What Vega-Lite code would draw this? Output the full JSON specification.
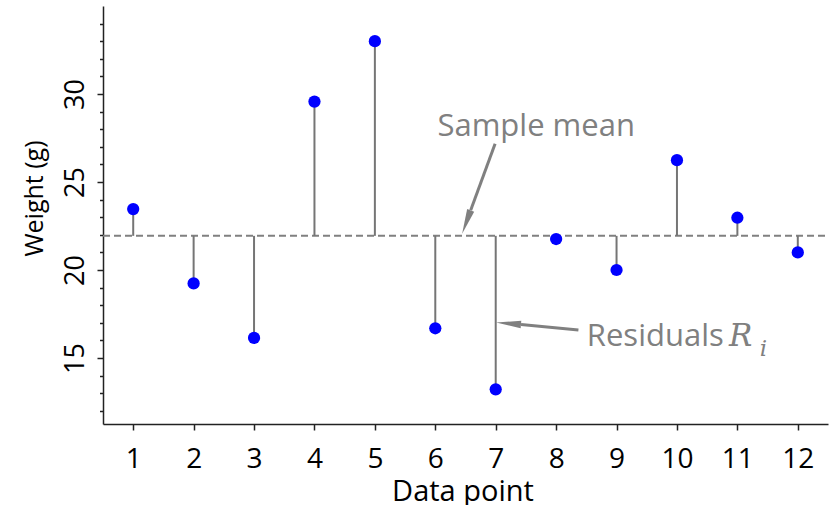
{
  "$schema": "https://vega.github.io/schema/vega-lite/v6.json",
  "width": 725,
  "height": 418,
  "autosize": {"type": "none"},
  "padding": {"left": 103, "top": 6, "right": 4, "bottom": 81},
  "config": {"view": {"stroke": null}, "font": "Open Sans"},
  "datasets": {
    "points": [
      {"x": 1, "y": 23.46}, {"x": 2, "y": 19.24}, {"x": 3, "y": 16.14},
      {"x": 4, "y": 29.57}, {"x": 5, "y": 33.0}, {"x": 6, "y": 16.69},
      {"x": 7, "y": 13.22}, {"x": 8, "y": 21.76}, {"x": 9, "y": 20.0},
      {"x": 10, "y": 26.24}, {"x": 11, "y": 22.97}, {"x": 12, "y": 21.0}
    ],
    "mean": [{"x": 0.5, "y": 21.94}, {"x": 12.5, "y": 21.94}],
    "arrows": [
      {"name": "mean", "x": 6.99, "y": 27.17, "x2": 6.586, "y2": 23.39, "hx": 6.515, "hy": 22.72},
      {"name": "resid", "x": 8.369, "y": 16.595, "x2": 7.419, "y2": 16.9, "hx": 7.212, "hy": 16.96}
    ],
    "labels": [
      {"text": "Sample mean", "x": 7.67, "y": 27.62},
      {"text": "Residuals", "x": 8.508, "y": 15.68}
    ],
    "math": [
      {"text": "R", "x": 10.86, "y": 15.68},
      {"text": "i", "x": 11.37, "y": 15.14}
    ]
  },
  "encoding": {
    "x": {"field": "x", "type": "quantitative", "scale": {"domain": [0.5, 12.5], "nice": false, "zero": false},
      "axis": {"values": [1,2,3,4,5,6,7,8,9,10,11,12], "grid": false, "tickSize": 6, "tickWidth": 1.5, "tickColor": "#222",
        "domainColor": "#222", "domainWidth": 1.5, "labelFontSize": 28, "labelColor": "#000", "labelPadding": 37,
        "labelBaseline": "alphabetic", "labelFlush": false, "labelOverlap": false, "format": "d",
        "title": "Data point", "titleFontSize": 29, "titleFontWeight": "normal", "titleColor": "#000",
        "titleX": 359.5, "titleY": 76, "titleBaseline": "alphabetic", "titleAlign": "center"}},
    "y": {"field": "y", "type": "quantitative", "scale": {"domain": [11.25, 35], "nice": false, "zero": false},
      "axis": {"values": [12,13,14,15,16,17,18,19,20,21,22,23,24,25,26,27,28,29,30,31,32,33,34],
        "labelExpr": "datum.value % 5 === 0 ? datum.label : ''",
        "tickSize": {"condition": {"test": "datum.value % 5 === 0", "value": 6}, "value": 3.5},
        "grid": false, "tickWidth": 1.5, "tickColor": "#222", "domainColor": "#222", "domainWidth": 1.5,
        "labelAngle": -90, "labelAlign": "center", "labelBaseline": "alphabetic", "labelPadding": 14,
        "labelFontSize": 27, "labelColor": "#000", "labelFlush": false, "labelOverlap": false,
        "title": "Weight (g)", "titleFontSize": 25, "titleFontWeight": "normal", "titleColor": "#000",
        "titleAngle": -90, "titleX": -61, "titleY": 192, "titleAlign": "center", "titleBaseline": "alphabetic"}}
  },
  "layer": [
    {
      "data": {"name": "mean"},
      "mark": {"type": "line", "color": "#808080", "strokeWidth": 2, "strokeDash": [7, 4]}
    },
    {
      "data": {"name": "points"},
      "mark": {"type": "rule", "color": "#757575", "strokeWidth": 2},
      "encoding": {
        "y2": {"datum": 21.94}
      }
    },
    {
      "data": {"name": "points"},
      "mark": {"type": "circle", "size": 150, "color": "#0000ff", "opacity": 1}
    },
    {
      "data": {"name": "arrows"},
      "mark": {"type": "rule", "color": "#808080", "strokeWidth": 3},
      "encoding": {
        "x2": {"field": "x2"},
        "y2": {"field": "y2"}
      }
    },
    {
      "data": {"name": "arrows"},
      "transform": [{"filter": "datum.name === 'mean'"}],
      "mark": {"type": "point", "shape": "M0,-1L0.3,1L-0.3,1Z", "size": 625, "filled": true, "color": "#808080", "opacity": 1, "angle": 200},
      "encoding": {
        "x": {"field": "hx", "type": "quantitative"},
        "y": {"field": "hy", "type": "quantitative"}
      }
    },
    {
      "data": {"name": "arrows"},
      "transform": [{"filter": "datum.name === 'resid'"}],
      "mark": {"type": "point", "shape": "M0,-1L0.3,1L-0.3,1Z", "size": 625, "filled": true, "color": "#808080", "opacity": 1, "angle": 275},
      "encoding": {
        "x": {"field": "hx", "type": "quantitative"},
        "y": {"field": "hy", "type": "quantitative"}
      }
    },
    {
      "data": {"name": "labels"},
      "transform": [{"filter": "datum.text === 'Sample mean'"}],
      "mark": {"type": "text", "fontSize": 31, "color": "#808080", "baseline": "alphabetic", "align": "center", "font": "Open Sans"},
      "encoding": {"text": {"field": "text"}}
    },
    {
      "data": {"name": "labels"},
      "transform": [{"filter": "datum.text === 'Residuals'"}],
      "mark": {"type": "text", "fontSize": 31, "color": "#808080", "baseline": "alphabetic", "align": "left", "font": "Open Sans"},
      "encoding": {"text": {"field": "text"}}
    },
    {
      "data": {"name": "math"},
      "transform": [{"filter": "datum.text === 'R'"}],
      "mark": {"type": "text", "fontSize": 31, "color": "#808080", "baseline": "alphabetic", "align": "left", "font": "DejaVu Serif", "fontStyle": "italic"},
      "encoding": {"text": {"field": "text"}}
    },
    {
      "data": {"name": "math"},
      "transform": [{"filter": "datum.text === 'i'"}],
      "mark": {"type": "text", "fontSize": 23, "color": "#808080", "baseline": "alphabetic", "align": "left", "font": "DejaVu Serif", "fontStyle": "italic"},
      "encoding": {"text": {"field": "text"}}
    }
  ]
}
